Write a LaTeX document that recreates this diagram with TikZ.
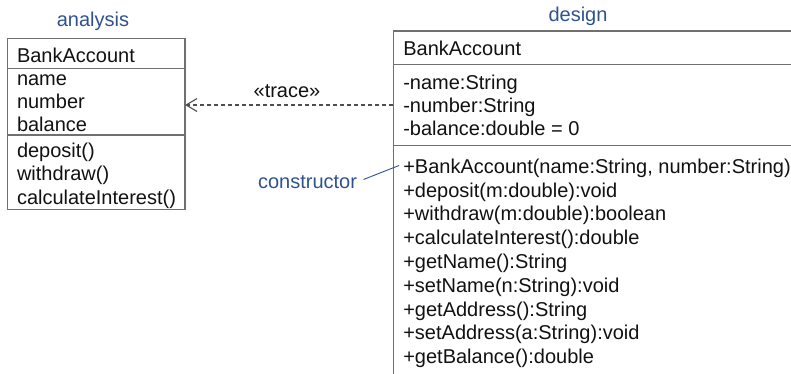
\documentclass[tikz,border=0pt]{standalone}
\usepackage{fontspec}
\setmainfont{Liberation Sans}
\usetikzlibrary{arrows.meta}
\definecolor{lbl}{HTML}{2F528F}
\definecolor{boxline}{HTML}{707070}
\definecolor{txt}{HTML}{111111}
\begin{document}
\begin{tikzpicture}[x=1pt,y=-1pt,
  every node/.style={inner sep=0pt,outer sep=0pt,font=\fontsize{20}{24}\selectfont},
  row/.style={anchor=base west,text=txt},
  title/.style={anchor=base,text=lbl},
  umlbox/.style={draw=boxline,line width=1.4pt,anchor=north west},
  sepline/.style={draw=boxline,line width=1.4pt},
  tracearrow/.style={draw=boxline!70!black,line width=1.1pt,dash pattern=on 4pt off 3pt,-{Straight Barb[length=11pt,width=13pt,line width=1.1pt]}},
  noteline/.style={draw=lbl,line width=0.9pt}]
\useasboundingbox (0,0) rectangle (791,373);
\clip (0,0) rectangle (791,373);
% titles
\node[title] (tan) at (93,26.7) {analysis};
\node[title] (tde) at (578,21.7) {design};
% left box
\node[umlbox,minimum width=177.7pt,minimum height=171pt] (lbox) at (7.3,38.3) {};
\draw[sepline] (7.3,68.5) -- (185,68.5);
\draw[sepline] (7.3,135) -- (185,135);
\node[row] (la0) at (17,62.5) {BankAccount};
\node[row] (la1) at (17,85) {name};
\node[row] (la2) at (17,108.3) {number};
\node[row] (la3) at (17,131.7) {balance};
\node[row] (lo1) at (17,157) {deposit()};
\node[row] (lo2) at (17,180.5) {withdraw()};
\node[row] (lo3) at (17,204) {calculateInterest()};
% right box
\node[umlbox,minimum width=420pt,minimum height=400pt] (rbox) at (393.3,31) {};
\draw[sepline] (393.3,64.3) -- (800,64.3);
\draw[sepline] (393.3,145.7) -- (800,145.7);
\node[row] (ra0) at (403.3,55.7) {BankAccount};
\node[row] (ra1) at (403.3,89.3) {-name:String};
\node[row] (ra2) at (403.3,112.6) {-number:String};
\node[row] (ra3) at (403.3,135.8) {-balance:double = 0};
\node[row] (ro1) at (403.3,173.3) {+BankAccount(name:String, number:String)};
\node[row] (ro2) at (403.3,197.1) {+deposit(m:double):void};
\node[row] (ro3) at (403.3,220.9) {+withdraw(m:double):boolean};
\node[row] (ro4) at (403.3,244.7) {+calculateInterest():double};
\node[row] (ro5) at (403.3,268.5) {+getName():String};
\node[row] (ro6) at (403.3,292.3) {+setName(n:String):void};
\node[row] (ro7) at (403.3,316.1) {+getAddress():String};
\node[row] (ro8) at (403.3,339.9) {+setAddress(a:String):void};
\node[row] (ro9) at (403.3,363.7) {+getBalance():double};
% trace dependency
\coordinate (tstart) at (393.3,105);
\draw[tracearrow] (tstart) -- (lbox.east |- tstart);
\node[title,text=txt] (trace) at (287,97.7) {«trace»};
% constructor note
\node[anchor=base,text=lbl] (cons) at (307.5,188) {constructor};
\coordinate (cend) at (399,165.5);
\draw[noteline] (363.5,179.5) -- (cend);
\end{tikzpicture}
\end{document}
